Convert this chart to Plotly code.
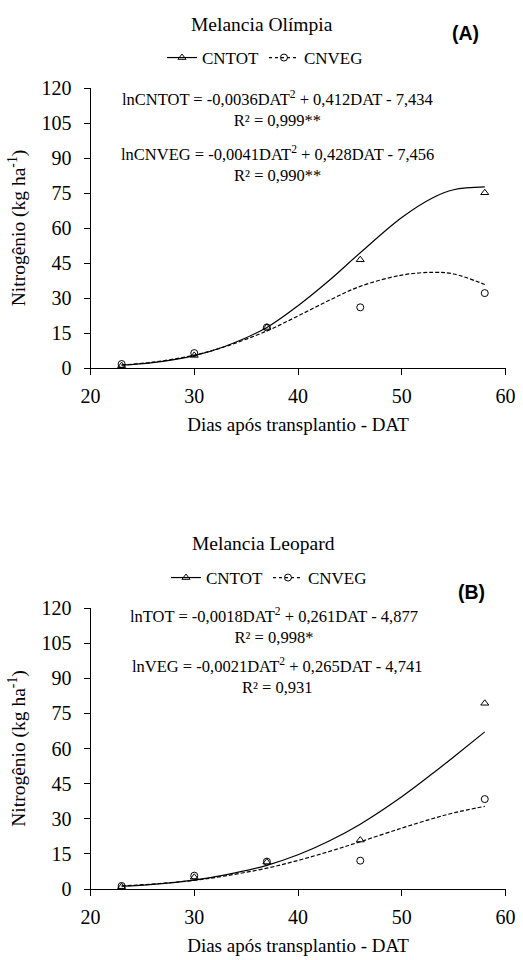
import plotly.graph_objects as go

# ---- data ----
DAT = [23, 30, 37, 46, 58]
A_CNTOT = [1.0, 5.4, 17.4, 46.4, 75.1]
A_CNVEG = [1.7, 6.4, 17.4, 26.0, 32.1]
B_CNTOT = [1.0, 5.0, 11.5, 20.9, 79.3]
B_CNVEG = [1.3, 5.7, 11.7, 12.1, 38.4]

CURVE_X = [23, 26, 30, 33, 37, 40, 43, 46, 50, 53, 55, 58]
A_TOT_FIT = [1.2, 2.3, 5.3, 9.3, 17.4, 26.7, 37.5, 49.4, 64.5, 73.0, 76.4, 77.6]
A_VEG_FIT = [1.3, 2.5, 5.5, 9.2, 15.9, 22.3, 29.0, 35.0, 39.8, 41.0, 40.3, 35.8]
B_TOT_FIT = [1.2, 2.0, 3.8, 6.0, 10.1, 14.6, 20.5, 27.7, 39.4, 49.4, 56.4, 67.1]
B_VEG_FIT = [1.3, 2.1, 3.7, 5.6, 8.9, 12.2, 16.0, 20.2, 26.0, 30.1, 32.5, 35.3]

X_TICKS = [20, 30, 40, 50, 60]
Y_TICKS = [0, 15, 30, 45, 60, 75, 90, 105, 120]

TITLES = ["Melancia Olímpia", "Melancia Leopard"]
PANEL_LABELS = ["(A)", "(B)"]
EQUATIONS = ["lnCNTOT = -0,0036DAT<sup>2</sup> + 0,412DAT - 7,434<br>R² = 0,999**",
             "lnCNVEG = -0,0041DAT<sup>2</sup> + 0,428DAT - 7,456<br>R² = 0,990**",
             "lnTOT = -0,0018DAT<sup>2</sup> + 0,261DAT - 4,877<br>R² = 0,998*",
             "lnVEG = -0,0021DAT<sup>2</sup> + 0,265DAT - 4,741<br>R² = 0,931"]

SERIF = "Liberation Serif"
W, H = 523, 960
VEG_DASH = "4px,2px"

def py(px):
    return 1 - px / H

def px_x(px):
    return px / W

fig = go.Figure()

panels = [
    dict(xa="x", ya="y", leg="legend", tot=A_CNTOT, veg=A_CNVEG, tf=A_TOT_FIT, vf=A_VEG_FIT),
    dict(xa="x2", ya="y2", leg="legend2", tot=B_CNTOT, veg=B_CNVEG, tf=B_TOT_FIT, vf=B_VEG_FIT),
]

for p in panels:
    # legend-only entries
    fig.add_trace(go.Scatter(x=[None], y=[None], mode="lines+markers", name="CNTOT",
                             line=dict(color="black", width=1.2),
                             marker=dict(symbol="triangle-up-open", size=7, color="black", line=dict(width=1)),
                             xaxis=p["xa"], yaxis=p["ya"], legend=p["leg"]))
    fig.add_trace(go.Scatter(x=[None], y=[None], mode="lines+markers", name="CNVEG",
                             line=dict(color="black", width=1.2, dash="dot"),
                             marker=dict(symbol="circle-open", size=7, color="black", line=dict(width=1)),
                             xaxis=p["xa"], yaxis=p["ya"], legend=p["leg"]))
    # fitted curves
    fig.add_trace(go.Scatter(x=CURVE_X, y=p["tf"], mode="lines", line=dict(color="black", width=1.2, shape="spline"),
                             showlegend=False, xaxis=p["xa"], yaxis=p["ya"]))
    fig.add_trace(go.Scatter(x=CURVE_X, y=p["vf"], mode="lines",
                             line=dict(color="black", width=1.2, shape="spline", dash=VEG_DASH),
                             showlegend=False, xaxis=p["xa"], yaxis=p["ya"]))
    # observed points
    fig.add_trace(go.Scatter(x=DAT, y=p["tot"], mode="markers",
                             marker=dict(symbol="triangle-up-open", size=7, color="black", line=dict(width=1)),
                             showlegend=False, xaxis=p["xa"], yaxis=p["ya"]))
    fig.add_trace(go.Scatter(x=DAT, y=p["veg"], mode="markers",
                             marker=dict(symbol="circle-open", size=7, color="black", line=dict(width=1)),
                             showlegend=False, xaxis=p["xa"], yaxis=p["ya"]))

xcommon = dict(range=[20, 60], tickvals=X_TICKS, showgrid=False, zeroline=False, showline=True,
               linecolor="black", linewidth=1, ticks="outside", ticklen=6, tickcolor="black",
               tickfont=dict(family=SERIF, size=20, color="black"), automargin=False, ticklabelstandoff=4,
               title=dict(text="Dias após transplantio - DAT", font=dict(family=SERIF, size=19, color="black"),
                          standoff=11))
ycommon = dict(range=[0, 120], tickvals=Y_TICKS, showgrid=False, zeroline=False, showline=True,
               linecolor="black", linewidth=1, ticks="outside", ticklen=6, tickcolor="black",
               tickfont=dict(family=SERIF, size=20, color="black"), ticklabelstandoff=8, automargin=False,
               title=dict(text="Nitrogênio (kg ha<sup>-1</sup>)", font=dict(family=SERIF, size=19.5, color="black"),
                          standoff=10))

dom_x = [px_x(90.5), px_x(505.5)]
fig.update_layout(
    template="none",
    width=W, height=H, margin=dict(l=0, r=0, t=0, b=0, pad=0, autoexpand=False),
    paper_bgcolor="white", plot_bgcolor="white",
    font=dict(family=SERIF, color="black"),
    xaxis=dict(domain=dom_x, anchor="y", **xcommon),
    yaxis=dict(domain=[py(368), py(88)], anchor="x", **ycommon),
    xaxis2=dict(domain=dom_x, anchor="y2", **xcommon),
    yaxis2=dict(domain=[py(889), py(608)], anchor="x2", **ycommon),
    legend=dict(orientation="h", x=px_x(265), y=py(58), xanchor="center", yanchor="middle",
                font=dict(family=SERIF, size=17, color="black"), bgcolor="rgba(0,0,0,0)", borderwidth=0,
                itemwidth=30, tracegroupgap=0),
    legend2=dict(orientation="h", x=px_x(269), y=py(578), xanchor="center", yanchor="middle",
                 font=dict(family=SERIF, size=17, color="black"), bgcolor="rgba(0,0,0,0)", borderwidth=0,
                 itemwidth=30, tracegroupgap=0),
    showlegend=True,
)

annos = []
for t, xx, yy in zip(TITLES, [262, 263], [25, 543]):
    annos.append(dict(text=t, x=px_x(xx), y=py(yy), xref="paper", yref="paper", showarrow=False,
                      xanchor="center", yanchor="middle", font=dict(family=SERIF, size=19.5, color="black")))
for t, xx, yy in zip(PANEL_LABELS, [465, 471], [33, 592]):
    annos.append(dict(text="<b>" + t + "</b>", x=px_x(xx), y=py(yy), xref="paper", yref="paper", showarrow=False,
                      xanchor="center", yanchor="middle",
                      font=dict(family="Liberation Sans", size=19.5, color="black")))
EQ_X = [277, 277, 274, 277]
EQ_Y = [109, 164, 626, 676]
for t, xx, yy in zip(EQUATIONS, EQ_X, EQ_Y):
    annos.append(dict(text=t, x=px_x(xx), y=py(yy), xref="paper", yref="paper", showarrow=False,
                      xanchor="center", yanchor="middle", align="center",
                      font=dict(family=SERIF, size=16.5, color="black")))
fig.update_layout(annotations=annos)

fig.write_html("out.html", config={"displayModeBar": False},
               post_script="document.body.style.margin='0';document.body.style.overflow='hidden';")
